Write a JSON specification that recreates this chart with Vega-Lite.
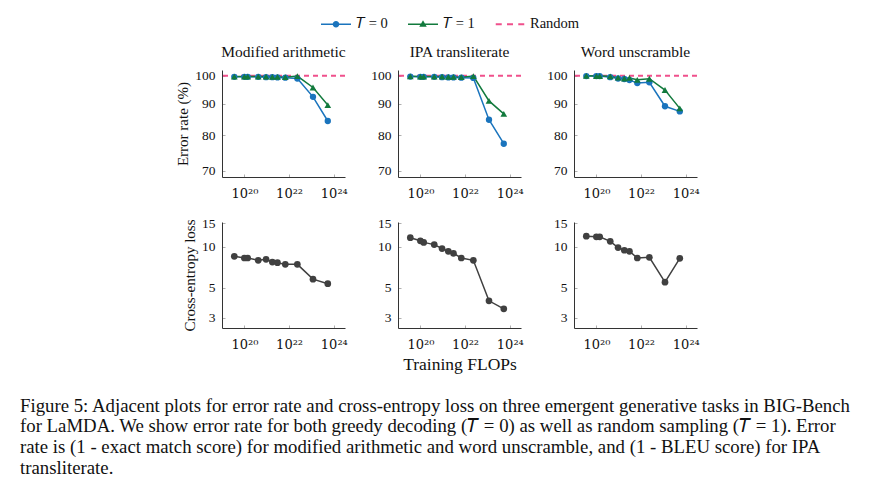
{
"$schema": "https://vega.github.io/schema/vega-lite/v6.json",
"autosize": {"type": "pad"},
"padding": {"left": 20, "top": 9, "right": 5, "bottom": 5},
"background": "white",
"config": {
  "font": "Liberation Serif",
  "view": {"stroke": null},
  "axis": {"grid": false, "domainColor": "#333", "domainWidth": 1, "tickColor": "#9a9a9a", "tickSize": -3, "tickWidth": 0.8, "labelFontSize": 13.5, "labelColor": "#111", "labelPadding": 10, "titleFontSize": 15, "titleFontWeight": "normal", "titleColor": "#111", "labelFlush": false},
  "axisX": {"labelFont": "DejaVu Serif", "labelFontSize": 13, "labelPadding": 13},
  "title": {"fontSize": 15.5, "fontWeight": "normal", "color": "#111", "offset": 8}
},
"datasets": {
  "err": [
    {"task": "Modified arithmetic", "flops": 3.55e19, "series": "T = 0", "rate": 99.6},
    {"task": "Modified arithmetic", "flops": 1.0e20, "series": "T = 0", "rate": 99.6},
    {"task": "Modified arithmetic", "flops": 1.41e20, "series": "T = 0", "rate": 99.6},
    {"task": "Modified arithmetic", "flops": 4.17e20, "series": "T = 0", "rate": 99.6},
    {"task": "Modified arithmetic", "flops": 9.33e20, "series": "T = 0", "rate": 99.5},
    {"task": "Modified arithmetic", "flops": 1.78e21, "series": "T = 0", "rate": 99.5},
    {"task": "Modified arithmetic", "flops": 3.02e21, "series": "T = 0", "rate": 99.4},
    {"task": "Modified arithmetic", "flops": 6.76e21, "series": "T = 0", "rate": 99.3},
    {"task": "Modified arithmetic", "flops": 2.34e22, "series": "T = 0", "rate": 99.0},
    {"task": "Modified arithmetic", "flops": 1.17e23, "series": "T = 0", "rate": 92.4},
    {"task": "Modified arithmetic", "flops": 5.37e23, "series": "T = 0", "rate": 84.4},
    {"task": "Modified arithmetic", "flops": 3.55e19, "series": "T = 1", "rate": 99.7},
    {"task": "Modified arithmetic", "flops": 1.0e20, "series": "T = 1", "rate": 99.7},
    {"task": "Modified arithmetic", "flops": 1.41e20, "series": "T = 1", "rate": 99.7},
    {"task": "Modified arithmetic", "flops": 4.17e20, "series": "T = 1", "rate": 99.7},
    {"task": "Modified arithmetic", "flops": 9.33e20, "series": "T = 1", "rate": 99.7},
    {"task": "Modified arithmetic", "flops": 1.78e21, "series": "T = 1", "rate": 99.6},
    {"task": "Modified arithmetic", "flops": 3.02e21, "series": "T = 1", "rate": 99.6},
    {"task": "Modified arithmetic", "flops": 6.76e21, "series": "T = 1", "rate": 99.5},
    {"task": "Modified arithmetic", "flops": 2.34e22, "series": "T = 1", "rate": 99.9},
    {"task": "Modified arithmetic", "flops": 1.17e23, "series": "T = 1", "rate": 95.7},
    {"task": "Modified arithmetic", "flops": 5.37e23, "series": "T = 1", "rate": 89.6},
    {"task": "IPA transliterate", "flops": 3.55e19, "series": "T = 0", "rate": 99.7},
    {"task": "IPA transliterate", "flops": 1.0e20, "series": "T = 0", "rate": 99.6},
    {"task": "IPA transliterate", "flops": 1.41e20, "series": "T = 0", "rate": 99.6},
    {"task": "IPA transliterate", "flops": 4.17e20, "series": "T = 0", "rate": 99.6},
    {"task": "IPA transliterate", "flops": 9.33e20, "series": "T = 0", "rate": 99.5},
    {"task": "IPA transliterate", "flops": 1.78e21, "series": "T = 0", "rate": 99.4},
    {"task": "IPA transliterate", "flops": 3.02e21, "series": "T = 0", "rate": 99.4},
    {"task": "IPA transliterate", "flops": 6.76e21, "series": "T = 0", "rate": 99.3},
    {"task": "IPA transliterate", "flops": 2.34e22, "series": "T = 0", "rate": 99.2},
    {"task": "IPA transliterate", "flops": 1.17e23, "series": "T = 0", "rate": 84.8},
    {"task": "IPA transliterate", "flops": 5.37e23, "series": "T = 0", "rate": 77.5},
    {"task": "IPA transliterate", "flops": 3.55e19, "series": "T = 1", "rate": 99.8},
    {"task": "IPA transliterate", "flops": 1.0e20, "series": "T = 1", "rate": 99.7},
    {"task": "IPA transliterate", "flops": 1.41e20, "series": "T = 1", "rate": 99.7},
    {"task": "IPA transliterate", "flops": 4.17e20, "series": "T = 1", "rate": 99.7},
    {"task": "IPA transliterate", "flops": 9.33e20, "series": "T = 1", "rate": 99.7},
    {"task": "IPA transliterate", "flops": 1.78e21, "series": "T = 1", "rate": 99.6},
    {"task": "IPA transliterate", "flops": 3.02e21, "series": "T = 1", "rate": 99.6},
    {"task": "IPA transliterate", "flops": 6.76e21, "series": "T = 1", "rate": 99.5},
    {"task": "IPA transliterate", "flops": 2.34e22, "series": "T = 1", "rate": 99.9},
    {"task": "IPA transliterate", "flops": 1.17e23, "series": "T = 1", "rate": 91.0},
    {"task": "IPA transliterate", "flops": 5.37e23, "series": "T = 1", "rate": 86.7},
    {"task": "Word unscramble", "flops": 3.55e19, "series": "T = 0", "rate": 99.9},
    {"task": "Word unscramble", "flops": 1.0e20, "series": "T = 0", "rate": 99.9},
    {"task": "Word unscramble", "flops": 1.41e20, "series": "T = 0", "rate": 99.9},
    {"task": "Word unscramble", "flops": 4.17e20, "series": "T = 0", "rate": 99.5},
    {"task": "Word unscramble", "flops": 9.33e20, "series": "T = 0", "rate": 99.0},
    {"task": "Word unscramble", "flops": 1.78e21, "series": "T = 0", "rate": 98.8},
    {"task": "Word unscramble", "flops": 3.02e21, "series": "T = 0", "rate": 98.4},
    {"task": "Word unscramble", "flops": 6.76e21, "series": "T = 0", "rate": 97.3},
    {"task": "Word unscramble", "flops": 2.34e22, "series": "T = 0", "rate": 97.6},
    {"task": "Word unscramble", "flops": 1.17e23, "series": "T = 0", "rate": 89.2},
    {"task": "Word unscramble", "flops": 5.37e23, "series": "T = 0", "rate": 87.5},
    {"task": "Word unscramble", "flops": 3.55e19, "series": "T = 1", "rate": 100},
    {"task": "Word unscramble", "flops": 1.0e20, "series": "T = 1", "rate": 99.9},
    {"task": "Word unscramble", "flops": 1.41e20, "series": "T = 1", "rate": 99.9},
    {"task": "Word unscramble", "flops": 4.17e20, "series": "T = 1", "rate": 99.8},
    {"task": "Word unscramble", "flops": 9.33e20, "series": "T = 1", "rate": 99.3},
    {"task": "Word unscramble", "flops": 1.78e21, "series": "T = 1", "rate": 99.0},
    {"task": "Word unscramble", "flops": 3.02e21, "series": "T = 1", "rate": 99.2},
    {"task": "Word unscramble", "flops": 6.76e21, "series": "T = 1", "rate": 98.5},
    {"task": "Word unscramble", "flops": 2.34e22, "series": "T = 1", "rate": 98.9},
    {"task": "Word unscramble", "flops": 1.17e23, "series": "T = 1", "rate": 94.8},
    {"task": "Word unscramble", "flops": 5.37e23, "series": "T = 1", "rate": 88.5}
  ],
  "loss": [
    {"task": "Modified arithmetic", "flops": 3.55e19, "loss": 8.53},
    {"task": "Modified arithmetic", "flops": 1.0e20, "loss": 8.29},
    {"task": "Modified arithmetic", "flops": 1.41e20, "loss": 8.29},
    {"task": "Modified arithmetic", "flops": 4.17e20, "loss": 7.97},
    {"task": "Modified arithmetic", "flops": 9.33e20, "loss": 8.11},
    {"task": "Modified arithmetic", "flops": 1.78e21, "loss": 7.74},
    {"task": "Modified arithmetic", "flops": 3.02e21, "loss": 7.66},
    {"task": "Modified arithmetic", "flops": 6.76e21, "loss": 7.44},
    {"task": "Modified arithmetic", "flops": 2.34e22, "loss": 7.44},
    {"task": "Modified arithmetic", "flops": 1.17e23, "loss": 5.79},
    {"task": "Modified arithmetic", "flops": 5.37e23, "loss": 5.36},
    {"task": "IPA transliterate", "flops": 3.55e19, "loss": 11.7},
    {"task": "IPA transliterate", "flops": 1.0e20, "loss": 11.1},
    {"task": "IPA transliterate", "flops": 1.41e20, "loss": 10.8},
    {"task": "IPA transliterate", "flops": 4.17e20, "loss": 10.4},
    {"task": "IPA transliterate", "flops": 9.33e20, "loss": 9.73},
    {"task": "IPA transliterate", "flops": 1.78e21, "loss": 9.29},
    {"task": "IPA transliterate", "flops": 3.02e21, "loss": 8.98},
    {"task": "IPA transliterate", "flops": 6.76e21, "loss": 8.29},
    {"task": "IPA transliterate", "flops": 2.34e22, "loss": 7.97},
    {"task": "IPA transliterate", "flops": 1.17e23, "loss": 4.01},
    {"task": "IPA transliterate", "flops": 5.37e23, "loss": 3.5},
    {"task": "Word unscramble", "flops": 3.55e19, "loss": 12.0},
    {"task": "Word unscramble", "flops": 1.0e20, "loss": 11.86},
    {"task": "Word unscramble", "flops": 1.41e20, "loss": 11.86},
    {"task": "Word unscramble", "flops": 4.17e20, "loss": 11.0},
    {"task": "Word unscramble", "flops": 9.33e20, "loss": 9.9},
    {"task": "Word unscramble", "flops": 1.78e21, "loss": 9.45},
    {"task": "Word unscramble", "flops": 3.02e21, "loss": 9.29},
    {"task": "Word unscramble", "flops": 6.76e21, "loss": 8.29},
    {"task": "Word unscramble", "flops": 2.34e22, "loss": 8.39},
    {"task": "Word unscramble", "flops": 1.17e23, "loss": 5.5},
    {"task": "Word unscramble", "flops": 5.37e23, "loss": 8.25}
  ]
},
"title": {
  "text": [
    "Figure 5: Adjacent plots for error rate and cross-entropy loss on three emergent generative tasks in BIG-Bench",
    "for LaMDA. We show error rate for both greedy decoding (𝑇 = 0) as well as random sampling (𝑇 = 1). Error",
    "rate is (1 - exact match score) for modified arithmetic and word unscramble, and (1 - BLEU score) for IPA",
    "transliterate."
  ],
  "orient": "bottom", "anchor": "start", "frame": "group", "offset": 24, "dx": -202,
  "fontSize": 18.8, "fontWeight": "normal", "lineHeight": 20.7, "color": "#111", "font": "Liberation Serif"
},
"columns": 3,
"spacing": {"row": 45, "column": 53},
"bounds": "flush",
"concat": [
  {
    "width": 123, "height": 107,
    "title": "Modified arithmetic",
    "data": {"name": "err"},
    "transform": [{"filter": "datum.task === 'Modified arithmetic'"}],
    "layer": [
      {"data": {"values": [{"random": 100}]}, "mark": {"type": "rule", "color": "#f0508c", "strokeDash": [5, 4], "strokeWidth": 2},
       "encoding": {"y": {"field": "random", "type": "quantitative", "scale": {"type": "log", "domain": [68.4, 102.2], "nice": false}}}},
      {"mark": {"type": "line", "strokeWidth": 1.5},
       "encoding": {
         "x": {"field": "flops", "type": "quantitative", "scale": {"type": "log", "domain": [1e19, 3.16e24], "nice": false}, "axis": {"values": [1e20, 1e22, 1e24], "title": null, "labelExpr": "datum.value < 1e21 ? '10²⁰' : datum.value < 1e23 ? '10²²' : '10²⁴'"}},
         "y": {"field": "rate", "type": "quantitative", "scale": {"type": "log", "domain": [68.4, 102.2], "nice": false}, "axis": {"values": [70, 80, 90, 100], "title": "Error rate (%)"}},
         "color": {"field": "series", "type": "nominal", "scale": {"domain": ["T = 0", "T = 1", "Random"], "range": ["#1a74bd", "#127a3d", "#f0508c"]}}}},
      {"transform": [{"filter": "datum.series === 'T = 0'"}], "mark": {"type": "point", "shape": "circle", "filled": true, "size": 40, "opacity": 1},
       "encoding": {"x": {"field": "flops", "type": "quantitative"}, "y": {"field": "rate", "type": "quantitative"}, "color": {"field": "series", "type": "nominal"}}},
      {"transform": [{"filter": "datum.series === 'T = 1'"}], "mark": {"type": "point", "shape": "triangle-up", "filled": true, "size": 45, "opacity": 1},
       "encoding": {"x": {"field": "flops", "type": "quantitative"}, "y": {"field": "rate", "type": "quantitative"}, "color": {"field": "series", "type": "nominal"}}},
      {"transform": [{"filter": "false"}], "mark": {"type": "point", "filled": true, "opacity": 1},
       "encoding": {
         "x": {"field": "flops", "type": "quantitative"}, "y": {"field": "rate", "type": "quantitative"},
         "color": {"field": "series", "type": "nominal",
           "legend": {"orient": "none", "legendX": 99, "legendY": -61, "direction": "horizontal", "title": null, "padding": 0,
             "symbolSize": 900, "symbolOpacity": 1, "symbolStrokeWidth": 0, "labelFontSize": 14.5, "labelFont": "Liberation Serif", "labelColor": "#111", "labelOffset": 5, "columnPadding": 20,
             "labelExpr": "datum.label == 'Random' ? 'Random' : replace(datum.label, 'T', '𝑇')",
             "encode": {"symbols": {"update": {"fill": {"scale": "color", "field": "value"}, "strokeWidth": {"value": 0}, "opacity": {"value": 1}}}}}},
         "shape": {"field": "series", "type": "nominal",
           "scale": {"domain": ["T = 0", "T = 1", "Random"], "range": [
             "M-1,-0.05L1,-0.05L1,0.05L-1,0.05ZM0.22,0A0.22,0.22,0,1,1,-0.22,0A0.22,0.22,0,1,1,0.22,0Z",
             "M-1,-0.05L1,-0.05L1,0.05L-1,0.05ZM0,-0.27L0.25,0.16L-0.25,0.16Z",
             "M-0.95,-0.065L-0.55,-0.065L-0.55,0.065L-0.95,0.065ZM-0.2,-0.065L0.2,-0.065L0.2,0.065L-0.2,0.065ZM0.55,-0.065L0.95,-0.065L0.95,0.065L0.55,0.065Z"]},
           "legend": {"orient": "none", "legendX": 99, "legendY": -61, "direction": "horizontal", "title": null, "padding": 0,
             "symbolSize": 900, "symbolOpacity": 1, "symbolStrokeWidth": 0, "labelFontSize": 14.5, "labelFont": "Liberation Serif", "labelColor": "#111", "labelOffset": 5, "columnPadding": 20,
             "labelExpr": "datum.label == 'Random' ? 'Random' : replace(datum.label, 'T', '𝑇')",
             "encode": {"symbols": {"update": {"fill": {"scale": "color", "field": "value"}, "strokeWidth": {"value": 0}, "opacity": {"value": 1}}}}}}}}
    ]
  },
  {
    "width": 123, "height": 107,
    "title": "IPA transliterate",
    "data": {"name": "err"},
    "transform": [{"filter": "datum.task === 'IPA transliterate'"}],
    "layer": [
      {"data": {"values": [{"random": 100}]}, "mark": {"type": "rule", "color": "#f0508c", "strokeDash": [5, 4], "strokeWidth": 2},
       "encoding": {"y": {"field": "random", "type": "quantitative", "scale": {"type": "log", "domain": [68.4, 102.2], "nice": false}}}},
      {"mark": {"type": "line", "strokeWidth": 1.5},
       "encoding": {
         "x": {"field": "flops", "type": "quantitative", "scale": {"type": "log", "domain": [1e19, 3.16e24], "nice": false}, "axis": {"values": [1e20, 1e22, 1e24], "title": null, "labelExpr": "datum.value < 1e21 ? '10²⁰' : datum.value < 1e23 ? '10²²' : '10²⁴'"}},
         "y": {"field": "rate", "type": "quantitative", "scale": {"type": "log", "domain": [68.4, 102.2], "nice": false}, "axis": {"values": [70, 80, 90, 100], "title": null}},
         "color": {"field": "series", "type": "nominal"}}},
      {"transform": [{"filter": "datum.series === 'T = 0'"}], "mark": {"type": "point", "shape": "circle", "filled": true, "size": 40, "opacity": 1},
       "encoding": {"x": {"field": "flops", "type": "quantitative"}, "y": {"field": "rate", "type": "quantitative"}, "color": {"field": "series", "type": "nominal"}}},
      {"transform": [{"filter": "datum.series === 'T = 1'"}], "mark": {"type": "point", "shape": "triangle-up", "filled": true, "size": 45, "opacity": 1},
       "encoding": {"x": {"field": "flops", "type": "quantitative"}, "y": {"field": "rate", "type": "quantitative"}, "color": {"field": "series", "type": "nominal"}}}
    ]
  },
  {
    "width": 123, "height": 107,
    "title": "Word unscramble",
    "data": {"name": "err"},
    "transform": [{"filter": "datum.task === 'Word unscramble'"}],
    "layer": [
      {"data": {"values": [{"random": 100}]}, "mark": {"type": "rule", "color": "#f0508c", "strokeDash": [5, 4], "strokeWidth": 2},
       "encoding": {"y": {"field": "random", "type": "quantitative", "scale": {"type": "log", "domain": [68.4, 102.2], "nice": false}}}},
      {"mark": {"type": "line", "strokeWidth": 1.5},
       "encoding": {
         "x": {"field": "flops", "type": "quantitative", "scale": {"type": "log", "domain": [1e19, 3.16e24], "nice": false}, "axis": {"values": [1e20, 1e22, 1e24], "title": null, "labelExpr": "datum.value < 1e21 ? '10²⁰' : datum.value < 1e23 ? '10²²' : '10²⁴'"}},
         "y": {"field": "rate", "type": "quantitative", "scale": {"type": "log", "domain": [68.4, 102.2], "nice": false}, "axis": {"values": [70, 80, 90, 100], "title": null}},
         "color": {"field": "series", "type": "nominal"}}},
      {"transform": [{"filter": "datum.series === 'T = 0'"}], "mark": {"type": "point", "shape": "circle", "filled": true, "size": 40, "opacity": 1},
       "encoding": {"x": {"field": "flops", "type": "quantitative"}, "y": {"field": "rate", "type": "quantitative"}, "color": {"field": "series", "type": "nominal"}}},
      {"transform": [{"filter": "datum.series === 'T = 1'"}], "mark": {"type": "point", "shape": "triangle-up", "filled": true, "size": 45, "opacity": 1},
       "encoding": {"x": {"field": "flops", "type": "quantitative"}, "y": {"field": "rate", "type": "quantitative"}, "color": {"field": "series", "type": "nominal"}}}
    ]
  },
  {
    "width": 123, "height": 106,
    "data": {"name": "loss"},
    "transform": [{"filter": "datum.task === 'Modified arithmetic'"}],
    "encoding": {
      "x": {"field": "flops", "type": "quantitative", "scale": {"type": "log", "domain": [1e19, 3.16e24], "nice": false}, "axis": {"values": [1e20, 1e22, 1e24], "title": null, "labelExpr": "datum.value < 1e21 ? '10²⁰' : datum.value < 1e23 ? '10²²' : '10²⁴'"}},
      "y": {"field": "loss", "type": "quantitative", "scale": {"type": "log", "domain": [2.53, 15.26], "nice": false}, "axis": {"values": [3, 5, 10, 15], "title": "Cross-entropy loss"}}
    },
    "layer": [
      {"mark": {"type": "line", "color": "#404040", "strokeWidth": 1.5}},
      {"mark": {"type": "point", "filled": true, "color": "#404040", "size": 45, "opacity": 1}}
    ]
  },
  {
    "width": 123, "height": 106,
    "data": {"name": "loss"},
    "transform": [{"filter": "datum.task === 'IPA transliterate'"}],
    "encoding": {
      "x": {"field": "flops", "type": "quantitative", "scale": {"type": "log", "domain": [1e19, 3.16e24], "nice": false}, "axis": {"values": [1e20, 1e22, 1e24], "title": "Training FLOPs", "titleFontSize": 17.5, "titleFont": "Liberation Serif", "titlePadding": 4, "labelExpr": "datum.value < 1e21 ? '10²⁰' : datum.value < 1e23 ? '10²²' : '10²⁴'"}},
      "y": {"field": "loss", "type": "quantitative", "scale": {"type": "log", "domain": [2.53, 15.26], "nice": false}, "axis": {"values": [3, 5, 10, 15], "title": null}}
    },
    "layer": [
      {"mark": {"type": "line", "color": "#404040", "strokeWidth": 1.5}},
      {"mark": {"type": "point", "filled": true, "color": "#404040", "size": 45, "opacity": 1}}
    ]
  },
  {
    "width": 123, "height": 106,
    "data": {"name": "loss"},
    "transform": [{"filter": "datum.task === 'Word unscramble'"}],
    "encoding": {
      "x": {"field": "flops", "type": "quantitative", "scale": {"type": "log", "domain": [1e19, 3.16e24], "nice": false}, "axis": {"values": [1e20, 1e22, 1e24], "title": null, "labelExpr": "datum.value < 1e21 ? '10²⁰' : datum.value < 1e23 ? '10²²' : '10²⁴'"}},
      "y": {"field": "loss", "type": "quantitative", "scale": {"type": "log", "domain": [2.53, 15.26], "nice": false}, "axis": {"values": [3, 5, 10, 15], "title": null}}
    },
    "layer": [
      {"mark": {"type": "line", "color": "#404040", "strokeWidth": 1.5}},
      {"mark": {"type": "point", "filled": true, "color": "#404040", "size": 45, "opacity": 1}}
    ]
  }
]
}
